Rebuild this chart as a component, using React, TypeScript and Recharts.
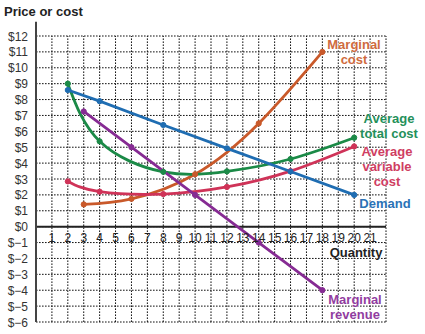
import { LineChart, Line, XAxis, YAxis, ReferenceLine } from 'recharts';

const quantityTicks = [1, 2, 3, 4, 5, 6, 7, 8, 9, 10, 11, 12, 13, 14, 15, 16, 17, 18, 19, 20, 21];
const gridQuantities = [1, 2, 3, 4, 5, 6, 7, 8, 9, 10, 11, 12, 13, 14, 15, 16, 17, 18, 19, 20, 21, 22];
const priceTicks = [-6, -5, -4, -3, -2, -1, 0, 1, 2, 3, 4, 5, 6, 7, 8, 9, 10, 11, 12];

const marginalCost = [
  { q: 3, p: 1.4 },
  { q: 6, p: 1.75 },
  { q: 10, p: 3.3 },
  { q: 14, p: 6.5 },
  { q: 18, p: 11 },
];
const averageTotalCost = [
  { q: 2, p: 9.0 },
  { q: 4, p: 5.37 },
  { q: 8, p: 3.45 },
  { q: 12, p: 3.48 },
  { q: 16, p: 4.26 },
  { q: 20, p: 5.6 },
];
const averageVariableCost = [
  { q: 2, p: 2.85 },
  { q: 4, p: 2.2 },
  { q: 8, p: 2.05 },
  { q: 12, p: 2.5 },
  { q: 16, p: 3.5 },
  { q: 20, p: 5.05 },
];
const demand = [
  { q: 2, p: 8.6 },
  { q: 4, p: 7.9 },
  { q: 8, p: 6.4 },
  { q: 12, p: 4.93 },
  { q: 16, p: 3.47 },
  { q: 20, p: 2.0 },
];
const marginalRevenue = [
  { q: 3, p: 7.25 },
  { q: 6, p: 5 },
  { q: 10, p: 2 },
  { q: 14, p: -1 },
  { q: 18, p: -4 },
];

const W = 425;
const H = 334;
const TOP = 21.7;
const X_AXIS_H = 12;
const LEFT = 36;
const RIGHT = 39;
const Y_MIN = -6;
const Y_MAX = 12.9;
const PLOT_H = H - TOP - X_AXIS_H;
const yPx = (v: number) => TOP + ((Y_MAX - v) / (Y_MAX - Y_MIN)) * PLOT_H;

const FONT = '"Liberation Sans", Arial, Helvetica, sans-serif';

const COLORS = {
  mc: '#c9592a',
  atc: '#1b8a47',
  avc: '#cf3358',
  demand: '#1f6db2',
  mr: '#862b93',
};

const fmtPrice = (v: number) => (v < 0 ? `$\u2212${-v}` : `$${v}`);

function QuantityTick({ x, payload }: any) {
  return (
    <text x={x} y={yPx(0) + 15} textAnchor="middle" fontSize={12} fill="#222" fontFamily={FONT}>
      {payload.value}
    </text>
  );
}

function PriceTick({ x, y, payload }: any) {
  return (
    <text x={x} y={y + 4.5} textAnchor="end" fontSize={12} fill="#333" fontFamily={FONT}>
      {fmtPrice(payload.value)}
    </text>
  );
}

const labelStyle = (color: string, left: number, top: number): React.CSSProperties => ({
  position: 'absolute',
  left,
  top,
  transform: 'translate(-50%, -50%)',
  color,
  fontFamily: FONT,
  fontWeight: 700,
  fontSize: 13,
  lineHeight: '15px',
  textAlign: 'center',
  whiteSpace: 'nowrap',
  textShadow: '0 0 2px #fff, 0 0 2px #fff',
});

export default function App() {
  const dotted = { stroke: '#111', strokeWidth: 1, strokeDasharray: '1.6 1.4' };
  const dot = (c: string) => ({ r: 2.6, fill: c, stroke: c, strokeWidth: 1 });
  return (
    <div style={{ position: 'absolute', left: 0, top: 0, width: W, height: H, background: '#fff' }}>
      <LineChart width={W} height={H} margin={{ top: TOP, right: RIGHT, bottom: 0, left: 0 }}>
        <XAxis
          type="number"
          dataKey="q"
          domain={[0, 22]}
          ticks={quantityTicks}
          height={X_AXIS_H}
          axisLine={false}
          tickLine={false}
          tick={<QuantityTick />}
          interval={0}
          allowDataOverflow
        />
        <YAxis
          type="number"
          dataKey="p"
          domain={[Y_MIN, Y_MAX]}
          ticks={priceTicks}
          width={LEFT}
          tickLine={false}
          axisLine={{ stroke: '#444', strokeWidth: 2 }}
          tick={<PriceTick />}
          interval={0}
          allowDataOverflow
        />
        {priceTicks.map((v) => (
          <ReferenceLine
            key={`h${v}`}
            segment={[
              { x: 0, y: v },
              { x: 22, y: v },
            ]}
            {...dotted}
          />
        ))}
        {gridQuantities.map((q) => (
          <ReferenceLine
            key={`v${q}`}
            segment={[
              { x: q, y: -6 },
              { x: q, y: 12 },
            ]}
            {...dotted}
          />
        ))}
        <ReferenceLine y={0} stroke="#222" strokeWidth={2} />
        <Line
          data={marginalCost}
          dataKey="p"
          type="natural"
          stroke={COLORS.mc}
          strokeWidth={2.8}
          dot={dot(COLORS.mc)}
          isAnimationActive={false}
        />
        <Line
          data={averageVariableCost}
          dataKey="p"
          type="natural"
          stroke={COLORS.avc}
          strokeWidth={2.8}
          dot={dot(COLORS.avc)}
          isAnimationActive={false}
        />
        <Line
          data={averageTotalCost}
          dataKey="p"
          type="natural"
          stroke={COLORS.atc}
          strokeWidth={2.8}
          dot={dot(COLORS.atc)}
          isAnimationActive={false}
        />
        <Line
          data={marginalRevenue}
          dataKey="p"
          type="linear"
          stroke={COLORS.mr}
          strokeWidth={2.8}
          dot={dot(COLORS.mr)}
          isAnimationActive={false}
        />
        <Line
          data={demand}
          dataKey="p"
          type="linear"
          stroke={COLORS.demand}
          strokeWidth={2.8}
          dot={dot(COLORS.demand)}
          isAnimationActive={false}
        />
      </LineChart>
      <div style={{ ...labelStyle('#222', 0, 11), transform: 'translate(0, -50%)', left: 4 }}>Price or cost</div>
      <div style={labelStyle('#cf6a3e', 354, 52)}>
        Marginal
        <br />
        cost
      </div>
      <div style={labelStyle('#24905a', 389, 126)}>
        Average
        <br />
        total cost
      </div>
      <div style={labelStyle('#cf3e62', 387, 166)}>
        Average
        <br />
        variable
        <br />
        cost
      </div>
      <div style={labelStyle('#2a72b6', 385, 203)}>Demand</div>
      <div style={labelStyle('#222', 356, 252)}>Quantity</div>
      <div style={labelStyle('#913c9f', 355, 307)}>
        Marginal
        <br />
        revenue
      </div>
    </div>
  );
}
